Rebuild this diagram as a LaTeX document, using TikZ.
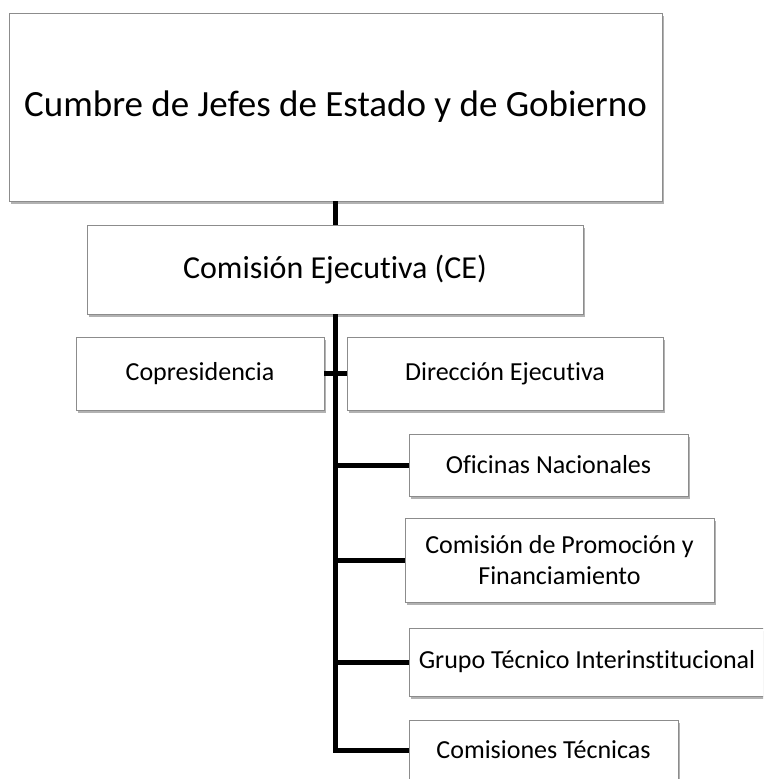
\documentclass[tikz,border=0pt]{standalone}
\usepackage{fontspec}
\setmainfont{Carlito}[Ligatures={NoCommon}]
\usetikzlibrary{shadows}
\definecolor{boxgray}{HTML}{8C8C8C}
\begin{document}
\begin{tikzpicture}[x=1pt,y=-1pt,
  box/.style={draw=boxgray, line width=0.9pt, fill=white, inner sep=0pt, align=center,
    drop shadow={shadow xshift=1.5pt, shadow yshift=-2.5pt, fill=black, opacity=0.3}},
  big/.style={font=\fontsize{37}{44}\selectfont},
  mid/.style={font=\fontsize{32}{38}\selectfont},
  small/.style={font=\fontsize{26}{31}\selectfont},
  conn/.style={line width=5pt, black}]
\clip (0,0) rectangle (763,779);
\fill[white] (0,0) rectangle (763,779);
\node[box, big, minimum width=653pt, minimum height=188pt] (top) at (335.5,107) {Cumbre de Jefes de Estado y de Gobierno};
\node[box, mid, minimum width=496pt, minimum height=89pt] (ce) at (335,269.5) {Comisión Ejecutiva (CE)};
\node[box, small, minimum width=248pt, minimum height=73pt] (cop) at (200,373.5) {Copresidencia};
\node[box, small, minimum width=316pt, minimum height=73pt] (dir) at (505,373.5) {Dirección Ejecutiva};
\node[box, small, minimum width=279pt, minimum height=62pt] (ofi) at (548.5,465) {Oficinas Nacionales};
\node[box, small, minimum width=309pt, minimum height=84pt] (cpf) at (559.5,560) {Comisión de Promoción y\\Financiamiento};
\node[box, small, minimum width=356pt, minimum height=68pt] (gti) at (587,662) {Grupo Técnico Interinstitucional};
\node[box, small, minimum width=269pt, minimum height=60pt] (com) at (543.5,750) {Comisiones Técnicas};
\draw[conn] (ce.north |- top.south) -- (ce.north);
\draw[conn] (cop.east) -- (dir.west);
\draw[conn, line join=miter] (ce.south) |- (com.west);
\draw[conn] (ofi.west -| ce.south) -- (ofi.west);
\draw[conn] (cpf.west -| ce.south) -- (cpf.west);
\draw[conn] (gti.west -| ce.south) -- (gti.west);
\end{tikzpicture}
\end{document}
